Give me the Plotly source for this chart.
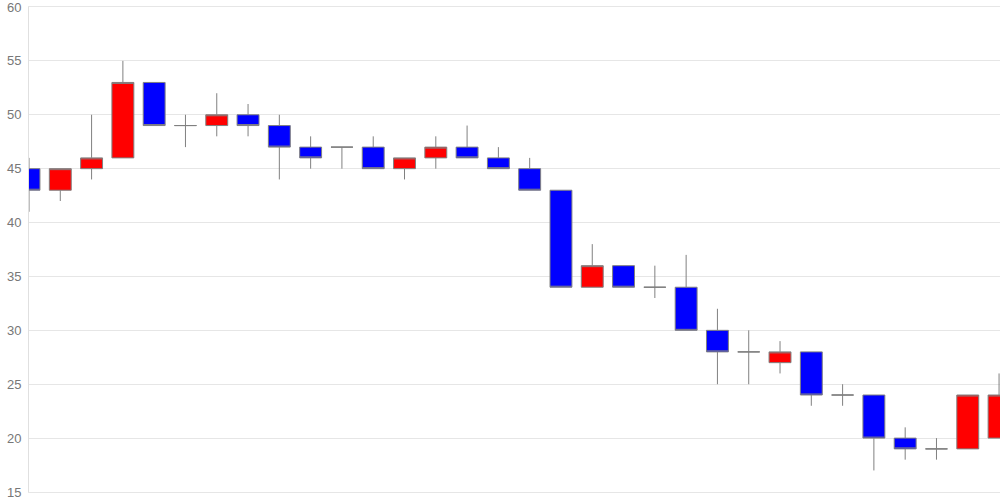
import plotly.graph_objects as go

# daily candles, left to right (first and last are clipped by the plot edges)
days = list(range(32))
opens = [45, 43, 45, 46, 53, 49, 49, 50, 49, 47, 47, 47, 45, 46, 47, 46,
         45, 43, 34, 36, 34, 34, 30, 28, 27, 28, 24, 24, 20, 19, 19, 20]
highs = [46, 45, 50, 55, 53, 50, 52, 51, 50, 48, 47, 48, 46, 48, 49, 47,
         46, 43, 38, 36, 36, 37, 32, 30, 29, 28, 25, 24, 21, 20, 24, 26]
lows = [41, 42, 44, 46, 49, 47, 48, 48, 44, 45, 45, 45, 44, 45, 46, 45,
        43, 34, 34, 34, 33, 30, 25, 25, 26, 23, 23, 17, 18, 18, 19, 20]
closes = [43, 45, 46, 53, 49, 49, 50, 49, 47, 46, 47, 45, 46, 47, 46, 45,
          43, 34, 36, 34, 34, 30, 28, 28, 28, 24, 24, 20, 19, 19, 24, 24]

y_ticks = [15, 20, 25, 30, 35, 40, 45, 50, 55, 60]

fig = go.Figure(
    go.Candlestick(
        x=days, open=opens, high=highs, low=lows, close=closes,
        increasing=dict(fillcolor="#ff0000", line=dict(color="#808080", width=1)),
        decreasing=dict(fillcolor="#0000ff", line=dict(color="#808080", width=1)),
        whiskerwidth=0,
        hoverinfo="x+y",
    )
)

fig.update_layout(
    width=1000, height=500,
    margin=dict(l=29, r=0, t=6, b=6),
    paper_bgcolor="white", plot_bgcolor="white",
    showlegend=False,
    boxgap=0.3, boxgroupgap=0,  # body ~70% of the day spacing
    font=dict(family="Liberation Sans, Arial, sans-serif", size=13, color="#777777"),
    xaxis=dict(
        range=[0, 31.03], showticklabels=False, showgrid=False, zeroline=False,
        showline=True, mirror=True, linecolor="#e6e6e6",
        rangeslider=dict(visible=False), fixedrange=True,
    ),
    yaxis=dict(
        range=[15, 60], tickvals=y_ticks, showgrid=True, gridcolor="#e6e6e6",
        zeroline=False, showline=True, linecolor="#e0e0e0", ticks="",
        ticklabelstandoff=4, ticklabeloverflow="allow", fixedrange=True,
    ),
)

# the page's default body margin would shift the chart by 8px
fig.write_html(
    "out.html",
    config={"displayModeBar": False},
    post_script="document.body.style.margin='0';",
)
